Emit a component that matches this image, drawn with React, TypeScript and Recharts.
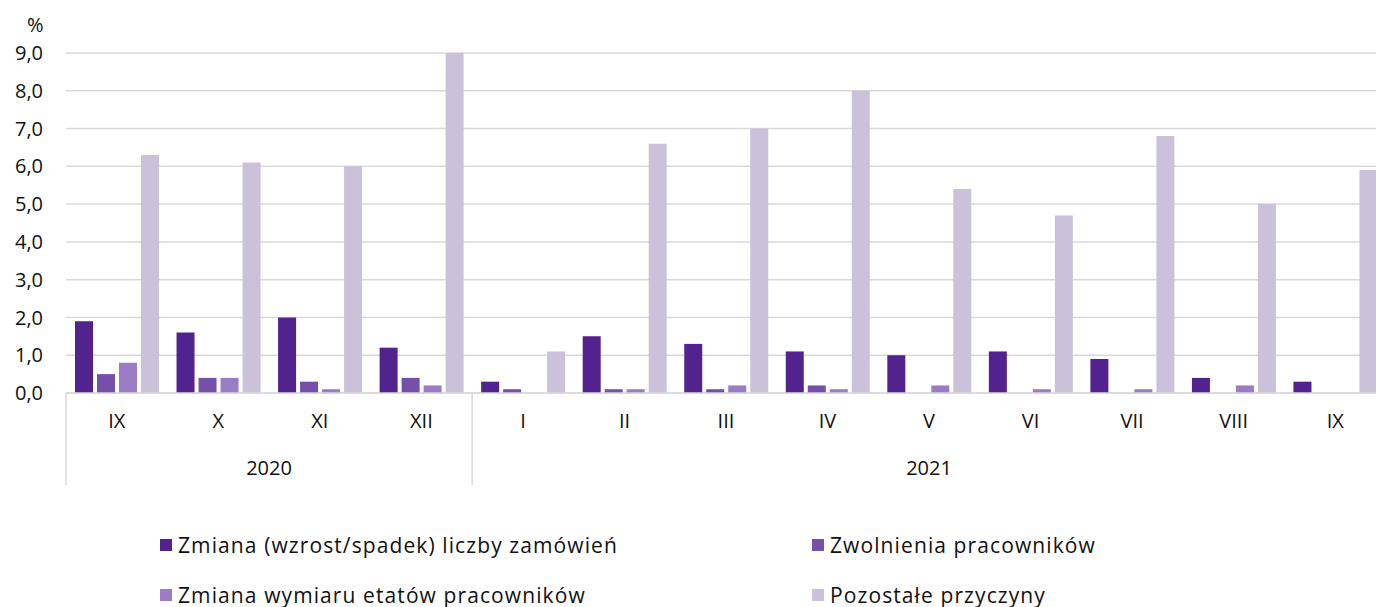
import { Bar, BarChart, CartesianGrid, XAxis, YAxis } from "recharts";

if (typeof document !== "undefined") document.body.style.margin = "0";

const months = ["IX", "X", "XI", "XII", "I", "II", "III", "IV", "V", "VI", "VII", "VIII", "IX"];
const years = ["2020", "2020", "2020", "2020", "2021", "2021", "2021", "2021", "2021", "2021", "2021", "2021", "2021"];

const orders = [1.9, 1.6, 2.0, 1.2, 0.3, 1.5, 1.3, 1.1, 1.0, 1.1, 0.9, 0.4, 0.3];
const layoffs = [0.5, 0.4, 0.3, 0.4, 0.1, 0.1, 0.1, 0.2, 0, 0, 0, 0, 0];
const hours = [0.8, 0.4, 0.1, 0.2, 0, 0.1, 0.2, 0.1, 0.2, 0.1, 0.1, 0.2, 0];
const other = [6.3, 6.1, 6.0, 9.0, 1.1, 6.6, 7.0, 8.0, 5.4, 4.7, 6.8, 5.0, 5.9];

const yTicks = [0, 1, 2, 3, 4, 5, 6, 7, 8, 9];

const series = [
  { key: "orders", name: "Zmiana (wzrost/spadek) liczby zamówień", color: "#52228f" },
  { key: "layoffs", name: "Zwolnienia pracowników", color: "#7550ab" },
  { key: "hours", name: "Zmiana wymiaru etatów pracowników", color: "#9a7dc4" },
  { key: "other", name: "Pozostałe przyczyny", color: "#cbc1da" },
];

const data = months.map((m, i) => ({
  idx: i,
  month: m,
  year: years[i],
  orders: orders[i],
  layoffs: layoffs[i],
  hours: hours[i],
  other: other[i],
}));

const FONT = "'Open Sans', 'Noto Sans', sans-serif";
const GRID = "#d9d9d9";
const labelStyle = { fontFamily: FONT, fontSize: 20 };

function MonthTick(props: any) {
  const { x, y, payload } = props;
  const i = payload.value as number;
  const off = payload.offset ?? 0;
  const isStart = i === 0 || years[i] !== years[i - 1];
  let yearLabel = null;
  if (isStart) {
    const count = years.filter((yr) => yr === years[i]).length;
    yearLabel = (
      <text x={x + (count - 1) * off} y={y + 82} textAnchor="middle" fill="#111" fontFamily={FONT} style={labelStyle}>
        {years[i]}
      </text>
    );
  }
  return (
    <g>
      {isStart && <line x1={x - off} x2={x - off} y1={y} y2={y + 92} stroke={GRID} strokeWidth={1.5} />}
      <text x={x} y={y + 35} textAnchor="middle" fill="#111" fontFamily={FONT} style={labelStyle}>
        {months[i]}
      </text>
      {yearLabel}
    </g>
  );
}

export default function App() {
  return (
    <div style={{ position: "relative", width: 1376, height: 607, overflow: "hidden", background: "#fff", fontFamily: FONT }}>
      <div style={{ position: "absolute", left: 27, top: 11, fontSize: 20, color: "#111" }}>%</div>
      <BarChart
        width={1386}
        height={500}
        data={data}
        margin={{ top: 53, right: 0, left: 0, bottom: 7 }}
        barCategoryGap={9}
        barGap={4}
        style={{ fontFamily: FONT }}
      >
        <CartesianGrid vertical={false} stroke={GRID} strokeWidth={1.5} />
        <XAxis
          dataKey="idx"
          height={100}
          tickLine={false}
          tickSize={0}
          tickMargin={0}
          axisLine={{ stroke: GRID, strokeWidth: 1.5 }}
          tick={<MonthTick />}
          interval={0}
        />
        <YAxis
          width={66}
          domain={[0, 9]}
          ticks={yTicks}
          axisLine={false}
          tickLine={false}
          tickSize={0}
          tickMargin={23}
          tickFormatter={(v: number) => v.toFixed(1).replace(".", ",")}
          tick={{ fontSize: 20, fill: "#111", fontFamily: FONT }}
        />
        {series.map((s) => (
          <Bar key={s.key} dataKey={s.key} name={s.name} fill={s.color} isAnimationActive={false} />
        ))}
      </BarChart>
      <div
        style={{
          position: "absolute",
          left: 160,
          top: 530,
          display: "grid",
          gridTemplateColumns: "652px 420px",
          rowGap: 21,
          fontSize: 21,
          letterSpacing: 1.1,
          color: "#111",
        }}
      >
        {series.map((s) => (
          <div key={s.key} style={{ display: "flex", alignItems: "center", height: 29, whiteSpace: "nowrap" }}>
            <span style={{ width: 12, height: 12, background: s.color, marginRight: 6, display: "inline-block" }} />
            {s.name}
          </div>
        ))}
      </div>
    </div>
  );
}
